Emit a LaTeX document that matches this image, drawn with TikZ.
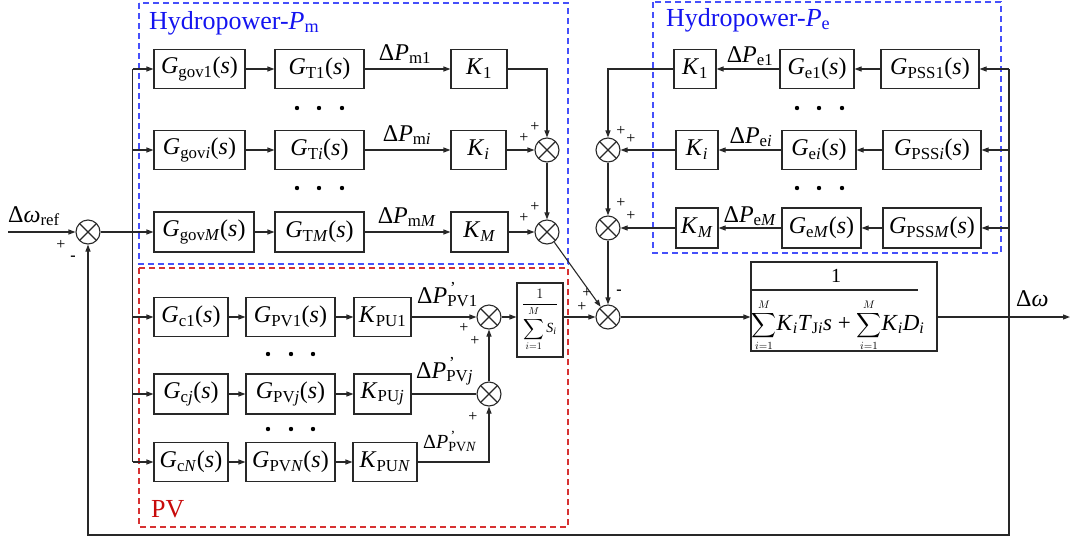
\documentclass[tikz,border=0pt]{standalone}
\usepackage{amsmath}
\usepackage{fontspec}
\setmainfont{Liberation Serif}
\usetikzlibrary{arrows.meta,calc}
\definecolor{dblue}{RGB}{70,80,250}
\definecolor{dred}{RGB}{215,50,50}
\definecolor{tblue}{RGB}{20,20,240}
\definecolor{tred}{RGB}{200,10,10}
\definecolor{lc}{RGB}{40,40,40}
\newcommand{\sub}[1]{\textsubscript{#1}}
\newcommand{\iv}[1]{\textit{#1}}
\begin{document}
\begin{tikzpicture}[x=1pt,y=-1pt,
 every node/.style={font=\fontsize{24}{28}\selectfont, inner sep=0pt},
 blk/.style={draw=lc, line width=1.1pt, minimum height=39pt, fill=white},
 sumn/.style={circle, draw=lc, line width=1.1pt, minimum size=24pt, fill=white,
   path picture={\draw[lc, line width=1.1pt] (path picture bounding box.north west) -- (path picture bounding box.south east) (path picture bounding box.north east) -- (path picture bounding box.south west);}},
 arr/.style={draw=lc, line width=1.1pt, -{Triangle[length=7pt,width=5pt]}},
 ln/.style={draw=lc, line width=1.1pt},
 sgn/.style={font=\fontsize{16}{16}\selectfont},
 ttl/.style={font=\fontsize{26}{30}\selectfont, anchor=base west},
 dsh/.style={line width=1.1pt, dash pattern=on 6pt off 4pt},
 dotf/.style={fill=black}]
\useasboundingbox (0,0) rectangle (1072,542);

% dashed frames
\draw[dsh, dblue] (139,3) rectangle (568,264);
\draw[dsh, dblue] (653,2) rectangle (1001,253);
\draw[dsh, dred] (139,268) rectangle (568,527);
\node[ttl, text=tblue] (hm) at (149,29) {Hydropower-\iv{P}\sub{m}};
\node[ttl, text=tblue] (he) at (666,26) {Hydropower-\iv{P}\sub{e}};
\node[ttl, text=tred] (pv) at (151,517) {PV};

% hydropower Pm
\node[blk, minimum width=91pt] (g1) at (199.5,69) {\iv{G}\sub{gov1}(\iv{s})};
\node[blk, minimum width=91pt] (gi) at (199.5,150) {\iv{G}\sub{gov\iv{i}}(\iv{s})};
\node[blk, minimum width=100pt, minimum height=40pt] (gM) at (204,232) {\iv{G}\sub{gov\iv{M}}(\iv{s})};
\node[blk, minimum width=89pt] (t1) at (319.5,69) {\iv{G}\sub{T1}(\iv{s})};
\node[blk, minimum width=89pt] (ti) at (319.5,150) {\iv{G}\sub{T\iv{i}}(\iv{s})};
\node[blk, minimum width=89pt, minimum height=40pt] (tM) at (319.5,232) {\iv{G}\sub{T\iv{M}}(\iv{s})};
\node[blk, minimum width=56pt] (k1) at (479,69) {\iv{K}\sub{1}};
\node[blk, minimum width=55pt] (ki) at (478.5,150) {\iv{K}\sub{\iv{i}}};
\node[blk, minimum width=57pt, minimum height=40pt] (kM) at (479.5,232) {\iv{K}\sub{\iv{M}}};
\node[sumn] (sm1) at (547,150) {};
\node[sumn] (sm2) at (547,232) {};

% hydropower Pe
\node[blk, minimum width=42pt] (ke1) at (695,69) {\iv{K}\sub{1}};
\node[blk, minimum width=42pt] (kei) at (697,150) {\iv{K}\sub{\iv{i}}};
\node[blk, minimum width=42pt, minimum height=40pt] (keM) at (697,228) {\iv{K}\sub{\iv{M}}};
\node[blk, minimum width=74pt] (ge1) at (817,69) {\iv{G}\sub{e1}(\iv{s})};
\node[blk, minimum width=74pt] (gei) at (819,150) {\iv{G}\sub{e\iv{i}}(\iv{s})};
\node[blk, minimum width=79pt, minimum height=40pt] (geM) at (821.5,228) {\iv{G}\sub{e\iv{M}}(\iv{s})};
\node[blk, minimum width=98pt] (pe1) at (930,69) {\iv{G}\sub{PSS1}(\iv{s})};
\node[blk, minimum width=98pt] (pei) at (932,150) {\iv{G}\sub{PSS\iv{i}}(\iv{s})};
\node[blk, minimum width=98pt, minimum height=40pt] (peM) at (932,228) {\iv{G}\sub{PSS\iv{M}}(\iv{s})};
\node[sumn] (se1) at (608,150) {};
\node[sumn] (se2) at (608,228) {};

% main sums
\node[sumn] (ms) at (608,317) {};
\node[sumn] (ls) at (88,232) {};

% PV
\node[blk, minimum width=74pt] (c1) at (191,317) {\iv{G}\sub{c1}(\iv{s})};
\node[blk, minimum width=74pt, minimum height=40pt] (cj) at (191,394) {\iv{G}\sub{c\iv{j}}(\iv{s})};
\node[blk, minimum width=74pt] (cN) at (191,462) {\iv{G}\sub{c\iv{N}}(\iv{s})};
\node[blk, minimum width=89pt] (v1) at (290.5,317) {\iv{G}\sub{PV1}(\iv{s})};
\node[blk, minimum width=89pt, minimum height=40pt] (vj) at (290.5,394) {\iv{G}\sub{PV\iv{j}}(\iv{s})};
\node[blk, minimum width=89pt] (vN) at (290.5,462) {\iv{G}\sub{PV\iv{N}}(\iv{s})};
\node[blk, minimum width=57pt] (u1) at (382.5,317) {\iv{K}\sub{PU1}};
\node[blk, minimum width=57pt, minimum height=40pt] (uj) at (382.5,394) {\iv{K}\sub{PU\iv{j}}};
\node[blk, minimum width=64pt] (uN) at (385,462) {\iv{K}\sub{PU\iv{N}}};
\node[sumn] (ps1) at (489,317) {};
\node[sumn] (ps2) at (489,394) {};
\node[blk, minimum width=46pt, minimum height=74pt] (sb) at (540,320) {\fontsize{14}{16}\selectfont$\dfrac{1}{\displaystyle\sum_{i=1}^{M}\mbox{\iv{S}\sub{\iv{i}}}}$};

% plant block
\node[blk, minimum width=186pt, minimum height=89pt] (big) at (844,306.5) {};
\draw[ln] (751,290) -- (918,290);
\node (num) at (836,276) {\fontsize{20}{22}\selectfont 1};
\node[anchor=base, font=\fontsize{23}{27}\selectfont] (den) at (838,330) {{\fontsize{16}{20}\selectfont$\displaystyle\sum_{i=1}^{M}$}\iv{K}\sub{\iv{i}}\iv{T}\sub{J\iv{i}}\iv{s} + {\fontsize{16}{20}\selectfont$\displaystyle\sum_{i=1}^{M}$}\iv{K}\sub{\iv{i}}\iv{D}\sub{\iv{i}}};

% dots
\foreach \x in {297,319,342} \foreach \y in {108,188} \fill (\x,\y) circle (2.2pt);
\foreach \x in {797,819,842} \foreach \y in {108,188} \fill (\x,\y) circle (2.2pt);
\foreach \x in {268,291,313} \foreach \y in {354,429} \fill (\x,\y) circle (2.2pt);

% input
\coordinate (inp) at (8,232);
\draw[arr] (inp) -- (ls);
\node[anchor=base west] (lref) at (8,222) {Δ\iv{ω}\sub{ref}};
\node[sgn] (sa) at (61,245) {+};
\node[sgn] (sb2) at (73,258) {\textbf{-}};

% distribution bus
\coordinate (bus1) at (132.5,69);
\coordinate (bus2) at (132.5,462);
\draw[ln] (bus1) -- (bus2);
\draw[arr] (bus1) -- (g1);
\draw[arr] (gi.west -| bus1) -- (gi);
\draw[arr] (ls) -- (gM);
\draw[arr] (c1.west -| bus1) -- (c1);
\draw[arr] (cj.west -| bus1) -- (cj);
\draw[arr] (bus2) -- (cN);

% Pm rows
\draw[arr] (g1) -- (t1);
\draw[arr] (gi) -- (ti);
\draw[arr] (gM) -- (tM);
\draw[arr] (t1) -- (k1);
\draw[arr] (ti) -- (ki);
\draw[arr] (tM) -- (kM);
\node[anchor=base] (dpm1) at (405,60) {Δ\iv{P}\sub{m1}};
\node[anchor=base] (dpmi) at (407,141) {Δ\iv{P}\sub{m\iv{i}}};
\node[anchor=base] (dpmM) at (407,223) {Δ\iv{P}\sub{m\iv{M}}};
\draw[arr] (k1.east) -| (sm1.north);
\draw[arr] (ki) -- (sm1);
\draw[arr] (sm1) -- (sm2);
\draw[arr] (kM) -- (sm2);
\draw[arr] (sm2) -- (ms);
\node[sgn] (s1a) at (535,127) {+};
\node[sgn] (s1b) at (524,138) {+};
\node[sgn] (s2a) at (535,207) {+};
\node[sgn] (s2b) at (524,218) {+};

% Pe rows
\coordinate (rb1) at (1009,69);
\coordinate (rb2) at (1009,535);
\coordinate (lb2) at (88,535);
\draw[arr] (rb1) -- (rb2) -- (lb2) -- (ls);
\draw[arr] (rb1) -- (pe1);
\draw[arr] (pei.east -| rb1) -- (pei);
\draw[arr] (peM.east -| rb1) -- (peM);
\draw[arr] (pe1) -- (ge1);
\draw[arr] (pei) -- (gei);
\draw[arr] (peM) -- (geM);
\draw[arr] (ge1) -- (ke1);
\draw[arr] (gei) -- (kei);
\draw[arr] (geM) -- (keM);
\node[anchor=base] (dpe1) at (750,62) {Δ\iv{P}\sub{e1}};
\node[anchor=base] (dpei) at (751,143) {Δ\iv{P}\sub{e\iv{i}}};
\node[anchor=base] (dpeM) at (750,222) {Δ\iv{P}\sub{e\iv{M}}};
\draw[arr] (ke1.west) -| (se1.north);
\draw[arr] (kei) -- (se1);
\draw[arr] (keM) -- (se2);
\draw[arr] (se1) -- (se2);
\draw[arr] (se2) -- (ms);
\node[sgn] (e1a) at (621,131) {+};
\node[sgn] (e1b) at (631,139) {+};
\node[sgn] (e2a) at (621,203) {+};
\node[sgn] (e2b) at (631,216) {+};

% PV rows
\draw[arr] (c1) -- (v1);
\draw[arr] (cj) -- (vj);
\draw[arr] (cN) -- (vN);
\draw[arr] (v1) -- (u1);
\draw[arr] (vj) -- (uj);
\draw[arr] (vN) -- (uN);
\draw[arr] (u1) -- (ps1);
\draw[ln] (uj) -- (ps2);
\draw[arr] (uN.east) -| (ps2.south);
\draw[arr] (ps2) -- (ps1);
\node[anchor=base west] (dpv1) at (417,303) {Δ\iv{P}\rlap{\textsuperscript{\,'}}\sub{PV1}};
\node[anchor=base west] (dpvj) at (416,378) {Δ\iv{P}\rlap{\textsuperscript{\,'}}\sub{PV\iv{j}}};
\node[anchor=base west, font=\fontsize{20}{24}\selectfont] (dpvN) at (423,448) {Δ\iv{P}\rlap{\textsuperscript{\,'}}\sub{PV\iv{N}}};
\node[sgn] (p1a) at (464,328) {+};
\node[sgn] (p1b) at (475,341) {+};
\node[sgn] (p2a) at (473,417) {+};
\draw[arr] (ps1) -- (ps1 -| sb.west);
\draw[arr] (sb.east |- ms) -- (ms);
\node[sgn] (ma) at (587,293) {+};
\node[sgn] (mb) at (582,307) {+};
\node[sgn] (mc) at (619,292) {\textbf{-}};

% output
\draw[arr] (ms) -- (ms -| big.west);
\coordinate (outp) at (1070,317);
\draw[arr] (ms -| big.east) -- (outp);
\node[anchor=base west] (dw) at (1016,306) {Δ\iv{ω}};
\end{tikzpicture}
\end{document}
